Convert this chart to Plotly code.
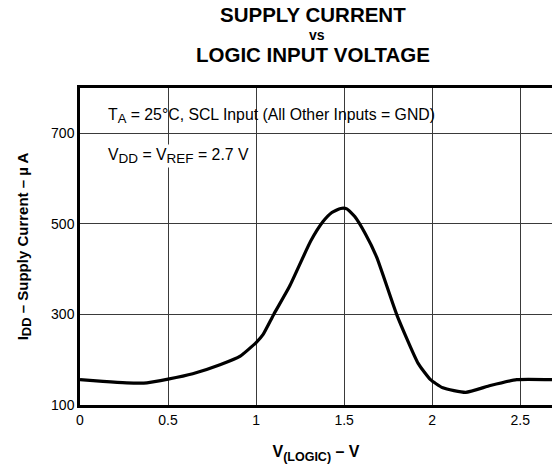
import plotly.graph_objects as go

# Supply current vs logic input voltage (TA = 25 °C, VDD = VREF = 2.7 V)
v_logic = [0.0, 0.13, 0.265, 0.38, 0.5, 0.64, 0.795, 0.91, 1.0, 1.04, 1.10,
           1.19, 1.31, 1.38, 1.43, 1.48, 1.515, 1.56, 1.62, 1.685, 1.80,
           1.92, 1.99, 2.06, 2.19, 2.33, 2.48, 2.68]
i_dd = [156, 152, 149, 149, 157, 169, 189, 208, 238, 256, 300,
        362, 462, 505, 525, 534, 533, 516, 478, 426, 298,
        192, 156, 138, 128, 143, 156, 156]

x_ticks = [0, 0.5, 1, 1.5, 2, 2.5]
x_tick_text = ["0", "0.5", "1", "1.5", "2", "2.5"]
y_ticks = [100, 300, 500, 700]
y_tick_text = ["100", "300", "500", "700"]

FONT = "Liberation Sans, Arial, sans-serif"


def sub(s, size):
    return f'<sub><span style="font-size:{size}px">{s}</span></sub>'


fig = go.Figure()
fig.add_trace(go.Scatter(
    x=v_logic, y=i_dd, mode="lines",
    line=dict(color="black", width=3.2, shape="spline", smoothing=0.5),
    hoverinfo="skip", showlegend=False,
))

L, T, B = 80, 88, 61
W, H = 552, 466
plot_h = H - T - B
plot_w = W - L


def py(px):
    return 1 - (px - T) / plot_h


def px_x(px):
    return (px - L) / plot_w


title_x = px_x(313)
annotations = [
    dict(text="<b>SUPPLY CURRENT</b>", x=title_x, y=py(14), size=20.5),
    dict(text="<b>vs</b>", x=title_x + 0.008, y=py(35), size=14),
    dict(text="<b>LOGIC INPUT VOLTAGE</b>", x=title_x, y=py(54), size=20.5),
]
anns = [dict(text=a["text"], x=a["x"], y=a["y"], xref="paper", yref="paper",
             xanchor="center", yanchor="middle", showarrow=False,
             font=dict(family=FONT, size=a["size"], color="black"))
        for a in annotations]

anns.append(dict(
    text="T" + sub("A", 13) + " = 25°C, SCL Input (All Other Inputs = GND)",
    x=0.148, y=738, xref="x", yref="y", xanchor="left", yanchor="middle",
    showarrow=False, font=dict(family=FONT, size=15.8, color="black"),
))
anns.append(dict(
    text="V" + sub("DD", 13.5) + " = V" + sub("REF", 13.5) + " = 2.7 V",
    x=0.150, y=650, xref="x", yref="y", xanchor="left", yanchor="middle",
    showarrow=False, bgcolor="white", borderpad=1,
    font=dict(family=FONT, size=15.8, color="black"),
))

fig.update_layout(
    width=W, height=H,
    margin=dict(l=L, r=0, t=T, b=B),
    paper_bgcolor="white", plot_bgcolor="white",
    font=dict(family=FONT, size=14, color="black"),
    annotations=anns,
    xaxis=dict(
        range=[0, 2.68], tickvals=x_ticks, ticktext=x_tick_text,
        showgrid=True, gridcolor="#3a3a3a", gridwidth=1.2,
        showline=True, linecolor="black", linewidth=2.5, mirror=True,
        ticks="", ticklen=0, zeroline=False,
        tickfont=dict(family=FONT, size=14),
        title=dict(text="<b>V" + sub("(LOGIC)", 12.5) + " – V</b>",
                   font=dict(family=FONT, size=16), standoff=20),
    ),
    yaxis=dict(
        range=[100, 800], tickvals=y_ticks, ticktext=y_tick_text,
        showgrid=True, gridcolor="#3a3a3a", gridwidth=1.2,
        showline=True, linecolor="black", linewidth=2.5, mirror=False,
        ticks="", zeroline=False,
        tickfont=dict(family=FONT, size=14),
        title=dict(text="<b>I" + sub("DD", 13) + " – Supply Current – µ A</b>",
                   font=dict(family=FONT, size=15), standoff=19),
    ),
)

fig.write_html("out.html")
